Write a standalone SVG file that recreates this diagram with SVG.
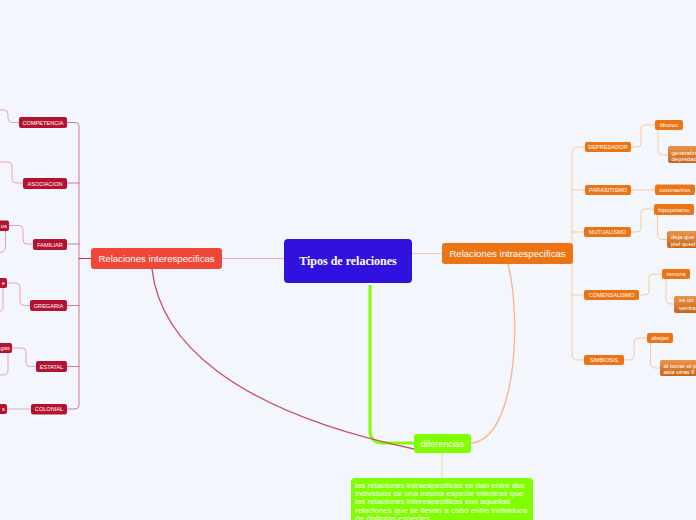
<svg xmlns="http://www.w3.org/2000/svg" width="696" height="520" viewBox="0 0 696 520">
<defs>
<linearGradient id="og" x1="0" y1="0" x2="0" y2="1">
<stop offset="0" stop-color="#ec9448"/>
<stop offset="1" stop-color="#c9661a"/>
</linearGradient>
<style>
text{font-family:"Liberation Sans",Arial,sans-serif;fill:#fff}
.c{fill:none;stroke-width:1;stroke-linecap:round;stroke-linejoin:round}
.lp{stroke:#e8a2b6}
.lr{stroke:#d47690}
.ro{stroke:#f8cb94}
.sub{fill:#b5122f}
.os{fill:#ec7414}
.og{fill:url(#og)}
.sl{font-size:5.6px;text-anchor:middle}
.cl{font-size:6px;text-anchor:middle}
.bl{font-size:6px}
.el{font-size:6px;text-anchor:end}
.nt{font-size:8.1px}
</style>
</defs>
<rect width="696" height="520" fill="#f4f6fe"/>
<g id="connectors">
<path d="M222,258.5 H284" class="c" stroke="#e8a8b8"/>
<path d="M412,253.5 H442" class="c" stroke="#f8c8a0"/>
<path d="M370,285 V430 Q370,443 383,443 H414" fill="none" stroke="#80ff00" stroke-width="3"/>
<path d="M152,269 C160,340 230,410 414,449" fill="none" stroke="#c9536c" stroke-width="1.4"/>
<path d="M508,264 C522,320 516,440 471,443" fill="none" stroke="#f8b88c" stroke-width="1.4"/>
<path d="M442,453 V478" class="c" stroke="#c2f08e"/>
<path d="M67,122.5 H75 Q79,122.5 79,126.5 V405 Q79,409 75,409 H67" class="c lr"/>
<path d="M67,183 H79 M67,244 H79 M67,305.5 H79 M67,366.5 H79" class="c lr"/>
<path d="M79,258.5 H91" class="c" stroke="#c8304c" stroke-width="1.2"/>
<path d="M19,122.5 H12 Q8,122.5 8,118.5 V114 Q8,110 4,110 H0" class="c lp"/>
<path d="M23,183 H16 Q12,183 12,179 V166 Q12,162 8,162 H0" class="c lp"/>
<path d="M33,244 H27 Q23,244 23,240 V229.5 Q23,225.5 19,225.5 H9" class="c lp"/>
<path d="M5.5,231 V246 Q5.5,252 0,252.5" class="c lp"/>
<path d="M30,305.5 H24 Q20,305.5 20,301.5 V287 Q20,283 16,283 H7" class="c lp"/>
<path d="M3,288 V306 Q3,311 0,311" class="c lp"/>
<path d="M36,366.5 H30 Q26,366.5 26,362.5 V352 Q26,348 22,348 H12" class="c lp"/>
<path d="M8,353 V370 Q8,375 3,375 H0" class="c lp"/>
<path d="M31,409 H7" class="c lp"/>
<path d="M585,147 H578 Q572,147 572,153 V354 Q572,360 578,360 H584" class="c ro"/>
<path d="M572,190 H585 M572,232 H584 M572,295 H584" class="c ro"/>
<path d="M631,147 H637 Q641,147 641,143 V129 Q641,125 645,125 H655" class="c ro"/>
<path d="M658,130 V150 Q658,155 663,155 H668" class="c ro"/>
<path d="M631,190 H655" class="c ro"/>
<path d="M631,232 H637 Q641,232 641,228 V213 Q641,209 645,209 H654" class="c ro"/>
<path d="M657.5,215 V234 Q657.5,239.5 663,239.5 H667" class="c ro"/>
<path d="M639,295 H645 Q649,295 649,291 V278 Q649,274 653,274 H662" class="c ro"/>
<path d="M666,279 V299 Q666,304 671,304 H674" class="c ro"/>
<path d="M624,360 H630 Q634,360 634,356 V342 Q634,338 638,338 H647" class="c ro"/>
<path d="M650.5,343 V363 Q650.5,368 655.5,368 H660" class="c ro"/>
</g>
<g id="central">
<rect x="284" y="239" width="128" height="44" rx="4" fill="#3011dd"/>
<text x="348" y="265" font-weight="bold" font-size="12" text-anchor="middle" style="font-family:'Liberation Serif',serif">Tipos de relaciones</text>
</g>
<g id="inter">
<rect x="91" y="248" width="131" height="21" rx="3" fill="#ef4638"/>
<text x="156.5" y="261.8" font-size="9.6" text-anchor="middle">Relaciones interespecificas</text>
</g>
<g id="intra">
<rect x="442" y="243" width="131" height="21" rx="3" fill="#ec7414"/>
<text x="507.5" y="256.8" font-size="9.6" text-anchor="middle">Relaciones intraespecificas</text>
</g>
<g id="diferencias">
<rect x="414" y="434" width="57" height="19" rx="3" fill="#80ff00"/>
<text x="442.5" y="446.5" font-size="9" text-anchor="middle">diferencias</text>
</g>
<g id="diferencias-texto">
<rect x="351" y="478" width="182" height="60" rx="4" fill="#80ff00"/>
<text x="355" y="487.8" class="nt">las relaciones intraespecificas se dan entre dos</text>
<text x="355" y="496.1" class="nt">individuos de una misma especie mientras que</text>
<text x="355" y="504.4" class="nt">las relaciones interespecificas son aquellas</text>
<text x="355" y="512.7" class="nt">relaciones que se llevan a cabo entre individuos</text>
<text x="355" y="521" class="nt">de distintas especies</text>
</g>
<g id="competencia"><rect x="19" y="117" width="48" height="11" rx="2" class="sub"/><text x="43" y="124.5" class="sl">COMPETENCIA</text></g>
<g id="asociacion"><rect x="23" y="178" width="44" height="11" rx="2" class="sub"/><text x="45" y="185.5" class="sl">ASOCIACION</text></g>
<g id="familiar"><rect x="33" y="239" width="34" height="11" rx="2" class="sub"/><text x="50" y="246.5" class="sl">FAMILIAR</text></g>
<g id="gregaria"><rect x="30" y="300" width="37" height="11" rx="2" class="sub"/><text x="48.5" y="307.5" class="sl">GREGARIA</text></g>
<g id="estatal"><rect x="36" y="361" width="31" height="11" rx="2" class="sub"/><text x="51.5" y="368.5" class="sl">ESTATAL</text></g>
<g id="colonial"><rect x="31" y="404" width="36" height="10.5" rx="2" class="sub"/><text x="49" y="411.3" class="sl">COLONIAL</text></g>
<g id="familiar-hijo"><rect x="-40" y="220.5" width="49" height="10.5" rx="2" class="sub"/><text x="7" y="227.8" class="el">os</text></g>
<g id="gregaria-hijo"><rect x="-40" y="278" width="47" height="10" rx="2" class="sub"/><text x="5" y="285.2" class="el">e</text></g>
<g id="estatal-hijo"><rect x="-40" y="343" width="52" height="10" rx="2" class="sub"/><text x="10" y="350.2" class="el">gas</text></g>
<g id="colonial-hijo"><rect x="-40" y="404" width="47" height="10" rx="2" class="sub"/><text x="5" y="411.2" class="el">s</text></g>
<g id="depredador"><rect x="585" y="142" width="46" height="10" rx="2" class="os"/><text x="608" y="149.2" class="sl">DEPREDADOR</text></g>
<g id="parasitismo"><rect x="585" y="185" width="46" height="10" rx="2" class="os"/><text x="608" y="192.2" class="sl">PARASITISMO</text></g>
<g id="mutualismo"><rect x="584" y="227" width="47" height="10" rx="2" class="os"/><text x="607.5" y="234.2" class="sl">MUTUALISMO</text></g>
<g id="comensalismo"><rect x="584" y="290" width="55" height="10" rx="2" class="os"/><text x="611.5" y="297.2" class="sl">COMENSALISMO</text></g>
<g id="simbiosis"><rect x="584" y="355" width="40" height="10" rx="2" class="os"/><text x="604" y="362.2" class="sl">SIMBIOSIS</text></g>
<g id="tiburon"><rect x="655" y="120" width="28" height="10" rx="2" class="os"/><text x="669" y="127.2" class="cl">tiburon</text></g>
<g id="coronavirus"><rect x="655" y="184.5" width="40" height="10.5" rx="2" class="os"/><text x="675" y="191.8" class="cl">coronavirus</text></g>
<g id="hipopotamo"><rect x="654" y="204" width="40" height="11" rx="2" class="os"/><text x="674" y="211.5" class="cl">hipopotamo</text></g>
<g id="remora"><rect x="662" y="269" width="28" height="10" rx="2" class="os"/><text x="676" y="276.2" class="cl">remora</text></g>
<g id="abejas"><rect x="647" y="333" width="26" height="10" rx="2" class="os"/><text x="660" y="340.2" class="cl">abejas</text></g>
<g id="depredador-nota"><rect x="668" y="146" width="60" height="17" rx="2" class="og"/><text x="671.5" y="154.5" class="bl">generalm</text><text x="671.5" y="161.2" class="bl">depredad</text></g>
<g id="hipopotamo-nota"><rect x="667" y="231" width="60" height="17" rx="2" class="og"/><text x="671" y="238.8" class="bl">deja que</text><text x="671" y="245.5" class="bl">piel qued</text></g>
<g id="remora-nota"><rect x="674" y="296" width="60" height="17" rx="2" class="og"/><text x="679" y="302" class="bl">es un</text><text x="679" y="309.5" class="bl">ventra</text></g>
<g id="abejas-nota"><rect x="660" y="360" width="60" height="16" rx="2" class="og"/><text x="663.5" y="367.5" class="bl">al tomar el p</text><text x="663.5" y="374" class="bl">asia otras fl</text></g>
</svg>
